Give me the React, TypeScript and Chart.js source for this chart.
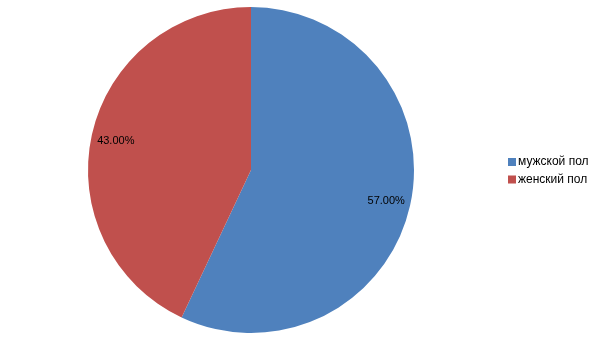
import React, { useEffect, useRef } from "react";
import { Chart, registerables } from "chart.js";

Chart.register(...registerables);

const categories = ["мужской пол", "женский пол"];
const values = [57, 43];
const valueLabels = ["57.00%", "43.00%"];
const colors = ["#4F81BD", "#C0504D"];

const labelPlugin = {
  id: "sliceLabels",
  afterDatasetsDraw(chart: any) {
    const ctx = chart.ctx;
    const meta = chart.getDatasetMeta(0);
    ctx.save();
    ctx.font = "11px 'Liberation Sans', Arial, sans-serif";
    ctx.fillStyle = "#000";
    ctx.textAlign = "center";
    ctx.textBaseline = "middle";
    meta.data.forEach((arc: any, i: number) => {
      const p = arc.getProps(["x", "y", "startAngle", "endAngle", "outerRadius"], true);
      const mid = (p.startAngle + p.endAngle) / 2;
      const r = p.outerRadius * 0.85;
      ctx.fillText(valueLabels[i], p.x + Math.cos(mid) * r, p.y + Math.sin(mid) * r + 1);
    });
    ctx.restore();
  },
};

const legendPlugin = {
  id: "sideLegend",
  afterDraw(chart: any) {
    const ctx = chart.ctx;
    ctx.save();
    ctx.font = "12px 'Liberation Sans', Arial, sans-serif";
    ctx.textBaseline = "middle";
    ctx.textAlign = "left";
    const x = 508;
    const y0 = 162;
    const step = 17.5;
    categories.forEach((c, i) => {
      const y = y0 + i * step;
      ctx.fillStyle = colors[i];
      ctx.fillRect(x, y - 4, 8, 8);
      ctx.fillStyle = "#000";
      ctx.fillText(c, x + 10, y);
    });
    ctx.restore();
  },
};

export default function App() {
  const ref = useRef<HTMLCanvasElement | null>(null);
  useEffect(() => {
    if (!ref.current) return;
    const chart = new Chart(ref.current, {
      type: "pie",
      data: {
        labels: categories,
        datasets: [
          {
            data: values,
            backgroundColor: colors,
            borderWidth: 0,
          },
        ],
      },
      options: {
        responsive: false,
        maintainAspectRatio: false,
        animation: false,
        layout: { padding: { top: 7, bottom: 7, left: 0, right: 103 } },
        plugins: {
          legend: { display: false },
          tooltip: { enabled: false },
        },
      },
      plugins: [labelPlugin, legendPlugin],
    });
    return () => chart.destroy();
  }, []);
  return (
    <div style={{ position: "fixed", left: 0, top: 0, width: 605, height: 340, background: "#fff" }}>
      <canvas ref={ref} width={605} height={340} style={{ width: 605, height: 340 }} />
    </div>
  );
}
